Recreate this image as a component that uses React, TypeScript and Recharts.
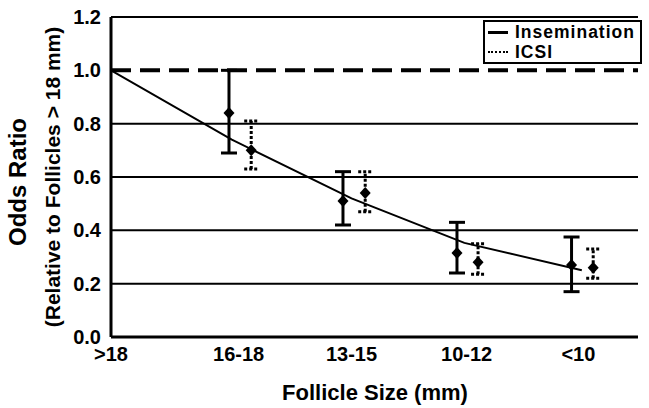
import React from 'react';
import {
  ComposedChart,
  Scatter,
  ErrorBar,
  XAxis,
  YAxis,
  ReferenceLine,
  Legend,
} from 'recharts';

// follicle size categories and where their labels sit on the x axis
const sizeLabels = ['>18', '16-18', '13-15', '10-12', '<10'];
const tickPos = [0, 1.12, 2.11, 3.12, 4.1];

// insemination: odds ratio with 95% CI
const inseminationX = [1.035, 2.035, 3.035, 4.04];
const inseminationOR = [0.84, 0.51, 0.315, 0.27];
const inseminationLow = [0.69, 0.42, 0.24, 0.17];
const inseminationHigh = [1.0, 0.62, 0.43, 0.375];

// ICSI: odds ratio with 95% CI
const icsiX = [1.23, 2.23, 3.22, 4.23];
const icsiOR = [0.7, 0.54, 0.28, 0.26];
const icsiLow = [0.63, 0.47, 0.235, 0.22];
const icsiHigh = [0.81, 0.62, 0.35, 0.33];

// fitted trend line
const trendX = [0, 1.06, 2.11, 3.1, 4.13];
const trendY = [1.0, 0.74, 0.52, 0.353, 0.25];

const yTicks = [0, 0.2, 0.4, 0.6, 0.8, 1.0, 1.2];
const gridValues = [0.2, 0.4, 0.6, 0.8, 1.2];

const FONT = '"Liberation Sans", Arial, Helvetica, sans-serif';

const toPoints = (xs: number[], ys: number[], lo?: number[], hi?: number[]) =>
  xs.map((x, i) => ({
    x,
    y: ys[i],
    err: lo && hi ? [ys[i] - lo[i], hi[i] - ys[i]] : undefined,
  }));

const inseminationData = toPoints(inseminationX, inseminationOR, inseminationLow, inseminationHigh);
const icsiData = toPoints(icsiX, icsiOR, icsiLow, icsiHigh);
const trendData = toPoints(trendX, trendY);

const Diamond = (props: any) => {
  const { cx, cy } = props;
  return (
    <polygon
      points={`${cx},${cy - 6} ${cx + 5.5},${cy} ${cx},${cy + 6} ${cx - 5.5},${cy}`}
      fill="#000"
    />
  );
};

const YTitle = () => (
  <g>
    <text
      x={17}
      y={182}
      transform="rotate(-90 17 182)"
      textAnchor="middle"
      dominantBaseline="central"
      fontFamily={FONT}
      fontWeight="bold"
      fontSize={24}
      fill="#000"
    >
      Odds Ratio
    </text>
    <text
      x={52}
      y={177}
      transform="rotate(-90 52 177)"
      textAnchor="middle"
      dominantBaseline="central"
      fontFamily={FONT}
      fontWeight="bold"
      fontSize={21}
      fill="#000"
    >
      (Relative to Follicles &gt; 18 mm)
    </text>
  </g>
);

const XTitle = () => (
  <text
    x={375}
    y={392}
    textAnchor="middle"
    dominantBaseline="central"
    fontFamily={FONT}
    fontWeight="bold"
    fontSize={22}
    fill="#000"
  >
    Follicle Size (mm)
  </text>
);

const LegendBox = () => (
  <div
    style={{
      border: '2px solid #000',
      background: '#fff',
      fontFamily: FONT,
      fontWeight: 'bold',
      fontSize: 17.5,
      letterSpacing: 1,
      lineHeight: '20px',
      padding: '0 1px 0 3px',
      boxSizing: 'border-box',
      width: 159,
    }}
  >
    <div style={{ display: 'flex', alignItems: 'center', height: 20 }}>
      <span style={{ width: 20, borderTop: '3px solid #000', marginRight: 7 }} />
      <span>Insemination</span>
    </div>
    <div style={{ display: 'flex', alignItems: 'center', height: 20 }}>
      <span style={{ width: 20, borderTop: '2px dotted #000', marginRight: 7 }} />
      <span>ICSI</span>
    </div>
  </div>
);

export default function App() {
  return (
    <div style={{ position: 'absolute', left: 0, top: 0, background: '#fff' }}>
      <ComposedChart
        width={649}
        height={408}
        margin={{ top: 17, right: 11, bottom: 11, left: 11 }}
      >
        <XAxis
          type="number"
          dataKey="x"
          domain={[0, 4.623]}
          ticks={tickPos}
          tickFormatter={(_v: number, i: number) => sizeLabels[i]}
          allowDataOverflow
          height={60}
          tickLine={false}
          tickSize={0}
          tickMargin={10}
          axisLine={{ stroke: '#000', strokeWidth: 3 }}
          tick={{ fill: '#000', fontFamily: FONT, fontWeight: 'bold', fontSize: 20 }}
          label={{ content: () => <XTitle /> }}
        />
        <YAxis
          type="number"
          dataKey="y"
          domain={[0, 1.2]}
          ticks={yTicks}
          tickFormatter={(v: number) => v.toFixed(1)}
          width={100}
          tickLine={false}
          tickSize={0}
          tickMargin={10}
          axisLine={{ stroke: '#000', strokeWidth: 3 }}
          tick={{ fill: '#000', fontFamily: FONT, fontWeight: 'bold', fontSize: 20 }}
          label={{ content: () => <YTitle /> }}
        />
        {gridValues.map((v) => (
          <ReferenceLine key={v} y={v} stroke="#000" strokeWidth={2} />
        ))}
        <ReferenceLine y={1} stroke="#000" strokeWidth={4} strokeDasharray="20 9" />
        <Scatter
          name="trend"
          data={trendData}
          line={{ stroke: '#000', strokeWidth: 2 }}
          shape={() => <g />}
          legendType="none"
          isAnimationActive={false}
        />
        <Scatter
          name="Insemination"
          data={inseminationData}
          shape={Diamond}
          isAnimationActive={false}
        >
          <ErrorBar dataKey="err" direction="y" width={8} stroke="#000" strokeWidth={3} isAnimationActive={false} />
        </Scatter>
        <Scatter
          name="ICSI"
          data={icsiData}
          shape={Diamond}
          isAnimationActive={false}
        >
          <ErrorBar
            dataKey="err"
            direction="y"
            width={7}
            stroke="#000"
            strokeWidth={3}
            strokeDasharray="3 2"
            isAnimationActive={false}
          />
        </Scatter>
        <Legend
          layout="vertical"
          align="center"
          verticalAlign="middle"
          wrapperStyle={{ left: 483, top: 20, width: 159 }}
          content={() => <LegendBox />}
        />
      </ComposedChart>
    </div>
  );
}
